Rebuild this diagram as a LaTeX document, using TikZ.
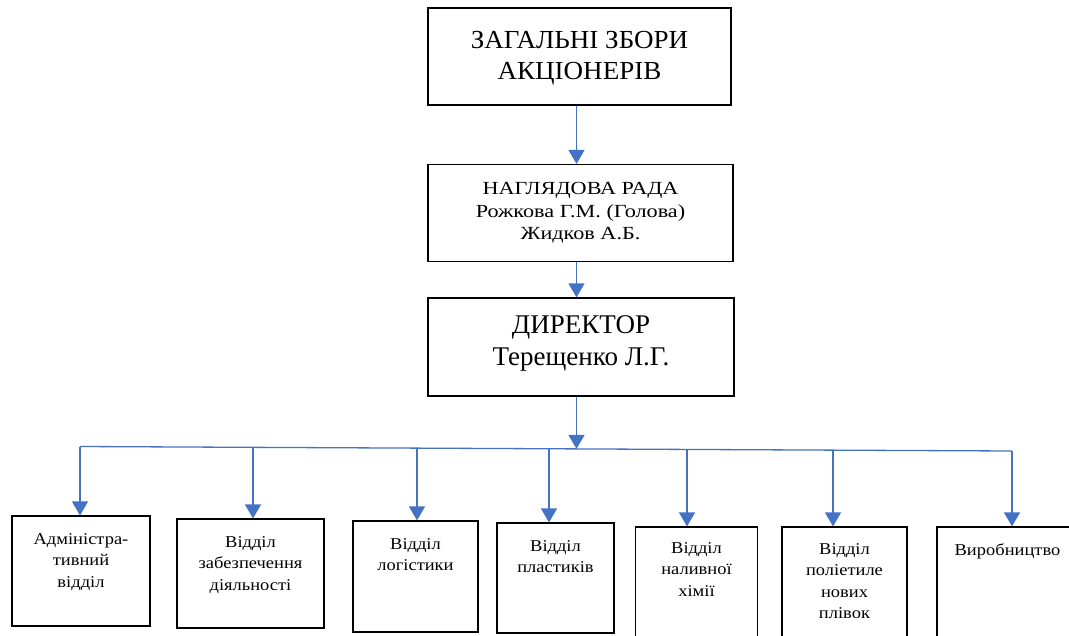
\documentclass[tikz,border=0pt]{standalone}
\usepackage{fontspec}
\usepackage{graphicx}
\setmainfont{Liberation Serif}
\usetikzlibrary{arrows.meta}
\definecolor{linkblue}{HTML}{4472C4}
\newcommand\tb[5]{\pgfmathsetlengthmacro\tbw{#1/#5}\scalebox{#5}[1]{\parbox[c][#2][t]{\tbw}{\centering\rule{0pt}{#3}#4}}}
\tikzset{
  orgbox/.style={draw=black, line width=1.2pt, rectangle, inner sep=0pt},
  bigfont/.style={font=\fontsize{26}{31}\selectfont},
  midfont/.style={font=\fontsize{18.5}{22.5}\selectfont},
  dirfont/.style={font=\fontsize{27}{32}\selectfont},
  smallfont/.style={font=\fontsize{16.5}{21.5}\selectfont},
  arr/.style={draw=linkblue, line width=1.3pt, -{Triangle[width=16pt,length=14pt]}},
  bus/.style={draw=linkblue, line width=1.3pt}
}
\begin{document}
\begin{tikzpicture}[x=1pt,y=-1pt]
\useasboundingbox (0,0) rectangle (1069,635);
\fill[white] (0,0) rectangle (1069,635);

\node[orgbox,bigfont] (top) at (579.5,56.5) {\tb{303pt}{97pt}{40pt}{ЗАГАЛЬНІ ЗБОРИ\\АКЦІОНЕРІВ}{1.04}};
\node[orgbox,midfont] (rada) at (580.5,213) {\tb{305pt}{97pt}{30pt}{НАГЛЯДОВА РАДА\\Рожкова Г.М. (Голова)\\Жидков А.Б.}{1.2}};
\node[orgbox,dirfont] (dir) at (581,347) {\tb{306pt}{98pt}{35pt}{ДИРЕКТОР\\Терещенко Л.Г.}{1}};

\node[orgbox,smallfont] (d1) at (81,571) {\tb{138pt}{110pt}{28pt}{Адміністра-\\тивний\\відділ}{1.12}};
\node[orgbox,smallfont] (d2) at (250.5,573.5) {\tb{147pt}{109pt}{28pt}{Відділ\\забезпечення\\діяльності}{1.12}};
\node[orgbox,smallfont] (d3) at (415.5,576.5) {\tb{125pt}{111pt}{28pt}{Відділ\\логістики}{1.12}};
\node[orgbox,smallfont] (d4) at (555.5,578) {\tb{117pt}{110pt}{28pt}{Відділ\\пластиків}{1.12}};
\node[orgbox,smallfont] (d5) at (696.5,586) {\tb{122pt}{118pt}{26pt}{Відділ\\наливної\\хімії}{1.12}};
\node[orgbox,smallfont] (d6) at (844.5,586) {\tb{125pt}{118pt}{27pt}{Відділ\\поліетиле\\нових\\плівок}{1.12}};
\node[orgbox,smallfont] (d7) at (1007.5,586) {\tb{141pt}{118pt}{28pt}{Виробництво}{1.12}};

\coordinate (ax) at (576.5,0);
\draw[arr] (top.south -| ax) -- (rada.north -| ax);
\draw[arr] (rada.south -| ax) -- (dir.north -| ax);

\coordinate (b1) at (80,446.5);
\coordinate (b2) at (253,447.3);
\coordinate (b3) at (417,448.1);
\coordinate (b4) at (549,448.8);
\coordinate (bc) at (576.5,448.9);
\coordinate (b5) at (687,449.4);
\coordinate (b6) at (833,450.1);
\coordinate (b7) at (1012,451);

\draw[arr] (dir.south -| bc) -- (bc);
\draw[bus] (b1) -- (b7);
\draw[arr] (b1) -- (b1 |- d1.north);
\draw[arr] (b2) -- (b2 |- d2.north);
\draw[arr] (b3) -- (b3 |- d3.north);
\draw[arr] (b4) -- (b4 |- d4.north);
\draw[arr] (b5) -- (b5 |- d5.north);
\draw[arr] (b6) -- (b6 |- d6.north);
\draw[arr] (b7) -- (b7 |- d7.north);
\end{tikzpicture}
\end{document}
